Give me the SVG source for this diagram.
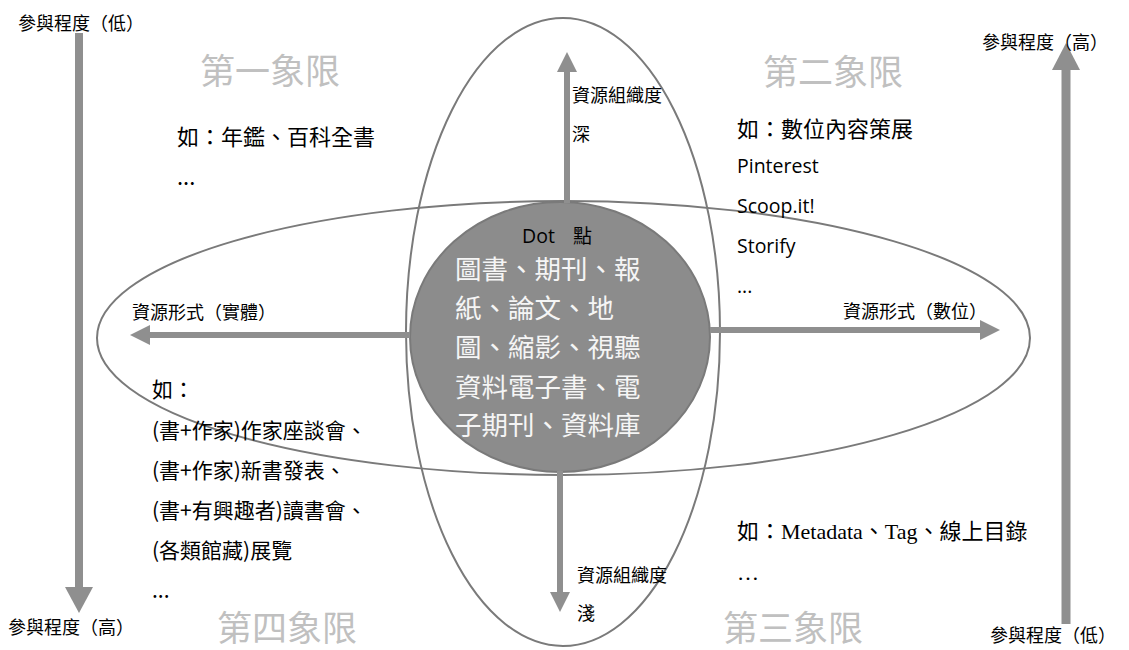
<svg xmlns="http://www.w3.org/2000/svg" width="1129" height="650" viewBox="0 0 1129 650">
<style>
.t{font-family:"Open Sans","Noto Sans CJK TC",sans-serif;fill:#000}
.q{font-family:"Noto Sans CJK TC",sans-serif;fill:#c0c0c0;font-size:35px}
.s{font-family:"Noto Sans CJK TC",sans-serif;font-size:18px;fill:#000}
.m{font-family:"Noto Sans CJK TC",sans-serif;font-size:22px;fill:#000}
.m2{font-family:"Noto Sans CJK TC",sans-serif;font-size:21px;fill:#000}
.o{font-family:"Open Sans",sans-serif;font-size:19.5px;fill:#000}
.r{font-family:"Liberation Serif","Noto Sans CJK TC",serif;font-size:22px;fill:#000}
.w{font-family:"Noto Sans CJK TC",sans-serif;font-size:26.5px;fill:#f5f5f5}
.e{fill:none;stroke:#7a7a7a;stroke-width:2}
.sh{stroke:#8f8f8f;fill:none}
.hd{fill:#8f8f8f}
</style>
<rect width="1129" height="650" fill="#fff"/>
<g id="ellipses">
<ellipse id="vertical-ellipse" class="e" cx="563" cy="332" rx="157" ry="314"/>
<ellipse id="horizontal-ellipse" class="e" cx="563.5" cy="338" rx="466.5" ry="137"/>
</g>
<g id="dot">
<ellipse cx="560" cy="337" rx="150" ry="135" fill="#8c8c8c" stroke="#7a7a7a" stroke-width="2"/>
<text class="t" x="522" y="243" style="font-size:19.5px">Dot</text>
<text class="t" x="573" y="243" style="font-size:19px;font-family:'Noto Sans CJK TC',sans-serif">點</text>
<text class="w" x="455" y="279">圖書、期刊、報</text>
<text class="w" x="455" y="318">紙、論文、地</text>
<text class="w" x="455" y="357">圖、縮影、視聽</text>
<text class="w" x="455" y="397">資料電子書、電</text>
<text class="w" x="455" y="435">子期刊、資料庫</text>
</g>
<g id="connectors">
<line class="sh" x1="79" y1="33" x2="79" y2="588" stroke-width="8"/>
<polygon class="hd" points="65,587 93,587 79,613"/>
<line class="sh" x1="1066" y1="624" x2="1066" y2="68" stroke-width="9"/>
<polygon class="hd" points="1052,70 1080,70 1066,43"/>
<line class="sh" x1="567" y1="203" x2="567" y2="70" stroke-width="6"/>
<polygon class="hd" points="557,72 577,72 567,52"/>
<line class="sh" x1="560" y1="471" x2="560" y2="594" stroke-width="6"/>
<polygon class="hd" points="550,592 570,592 560,612"/>
<line class="sh" x1="410" y1="335" x2="148" y2="335" stroke-width="6"/>
<polygon class="hd" points="150,325 150,345 130,335"/>
<line class="sh" x1="710" y1="330" x2="982" y2="330" stroke-width="6"/>
<polygon class="hd" points="980,320 980,340 1000,330"/>
</g>
<g id="axis-labels">
<text class="s" x="18" y="30">參與程度（低）</text>
<text class="s" x="982" y="49">參與程度（高）</text>
<text class="s" x="8" y="634">參與程度（高）</text>
<text class="s" x="990" y="642">參與程度（低）</text>
<text class="s" x="132" y="319">資源形式（實體）</text>
<text class="s" x="843" y="318">資源形式（數位）</text>
<text class="s" x="572" y="102">資源組織度</text>
<text class="s" x="572" y="141">深</text>
<text class="s" x="577" y="582">資源組織度</text>
<text class="s" x="577" y="620">淺</text>
</g>
<g id="quadrant-1">
<text class="q" x="200" y="84">第一象限</text>
<text class="m" x="177" y="145">如：年鑑、百科全書</text>
<text class="m" x="177" y="185">...</text>
</g>
<g id="quadrant-2">
<text class="q" x="763" y="85">第二象限</text>
<text class="m" x="737" y="137">如：數位內容策展</text>
<text class="o" x="737" y="173">Pinterest</text>
<text class="o" x="737" y="213">Scoop.it!</text>
<text class="o" x="737" y="253">Storify</text>
<text class="o" x="737" y="293">...</text>
</g>
<g id="quadrant-3">
<text class="q" x="723" y="641">第三象限</text>
<text class="r" x="737" y="539">如：Metadata、Tag、線上目錄</text>
<text class="r" x="737" y="580">…</text>
</g>
<g id="quadrant-4">
<text class="q" x="217" y="641">第四象限</text>
<text class="m2" x="152" y="397">如：</text>
<text class="m2" x="152" y="438">(書+作家)作家座談會、</text>
<text class="m2" x="152" y="478">(書+作家)新書發表、</text>
<text class="m2" x="152" y="518">(書+有興趣者)讀書會、</text>
<text class="m2" x="152" y="558">(各類館藏)展覽</text>
<text class="m2" x="152" y="598">...</text>
</g>
</svg>
